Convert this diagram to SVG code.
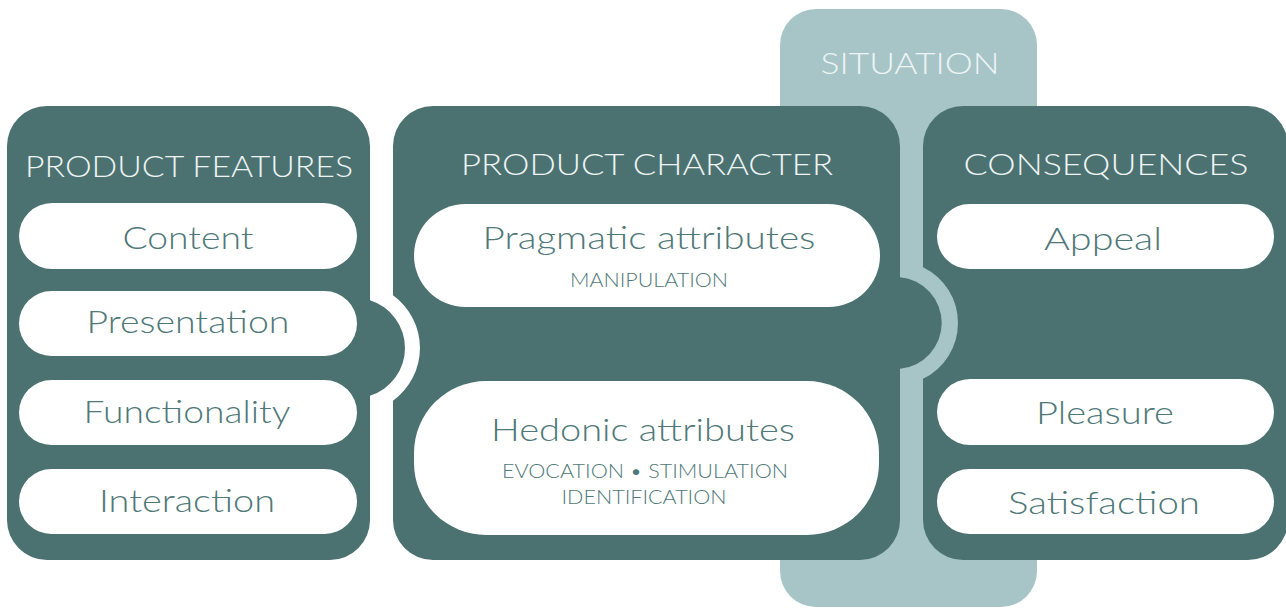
<svg xmlns="http://www.w3.org/2000/svg" width="1286" height="608" viewBox="0 0 1286 608">
<style>
.panel{fill:#4b7271}
.sit{fill:#a7c5c7}
.pill{fill:#ffffff}
.hdr{font-family:Lato,"Liberation Sans",sans-serif;font-weight:300;font-size:30px;fill:#eef4f4;text-anchor:middle}
.lbl{font-family:Lato,"Liberation Sans",sans-serif;font-weight:300;font-size:31px;fill:#4f7878;text-anchor:middle}
.sub{font-family:Lato,"Liberation Sans",sans-serif;font-weight:300;font-size:20px;fill:#4f7878;text-anchor:middle}
</style>
<rect width="1286" height="608" fill="#ffffff"/>
<g id="situation">
<rect class="sit" x="780" y="9" width="257" height="598" rx="36"/>
<text class="hdr" x="910" y="74" textLength="179" lengthAdjust="spacingAndGlyphs">SITUATION</text>
</g>
<g id="product-features">
<path class="panel" d="M47,106 H330 A40,40 0 0 1 370,146 V300.3 A50,50 0 0 1 370,395.7 V520 A40,40 0 0 1 330,560 H47 A40,40 0 0 1 7,520 V146 A40,40 0 0 1 47,106 Z"/>
<text class="hdr" x="189" y="177" textLength="328" lengthAdjust="spacingAndGlyphs">PRODUCT FEATURES</text>
<rect class="pill" x="19" y="203" width="338" height="66" rx="33"/>
<text class="lbl" x="188" y="249" textLength="131" lengthAdjust="spacingAndGlyphs">Content</text>
<rect class="pill" x="19" y="291" width="338" height="65" rx="32.5"/>
<text class="lbl" x="188" y="333" textLength="203" lengthAdjust="spacingAndGlyphs">Presentation</text>
<rect class="pill" x="19" y="380" width="338" height="65" rx="32.5"/>
<text class="lbl" x="187" y="423" textLength="207" lengthAdjust="spacingAndGlyphs">Functionality</text>
<rect class="pill" x="19" y="469" width="338" height="65" rx="32.5"/>
<text class="lbl" x="187" y="512" textLength="176" lengthAdjust="spacingAndGlyphs">Interaction</text>
</g>
<g id="product-character">
<path class="panel" d="M433,106 H860 A40,40 0 0 1 900,146 V277.2 A46,46 0 0 1 900,368.8 V520 A40,40 0 0 1 860,560 H433 A40,40 0 0 1 393,520 V400.7 A65,65 0 0 0 393,295.3 V146 A40,40 0 0 1 433,106 Z"/>
<text class="hdr" x="647" y="175" textLength="372" lengthAdjust="spacingAndGlyphs">PRODUCT CHARACTER</text>
<rect class="pill" x="414" y="204" width="466" height="103" rx="51.5"/>
<text class="lbl" x="649" y="249" textLength="333" lengthAdjust="spacingAndGlyphs">Pragmatic attributes</text>
<text class="sub" x="649" y="287" textLength="158" lengthAdjust="spacingAndGlyphs">MANIPULATION</text>
<rect class="pill" x="414" y="381" width="465" height="154" rx="72"/>
<text class="lbl" x="643" y="441" textLength="304" lengthAdjust="spacingAndGlyphs">Hedonic attributes</text>
<text class="sub" x="645" y="478" textLength="286" lengthAdjust="spacingAndGlyphs">EVOCATION • STIMULATION</text>
<text class="sub" x="644" y="504" textLength="165" lengthAdjust="spacingAndGlyphs">IDENTIFICATION</text>
</g>
<g id="consequences">
<path class="panel" d="M963,106 H1248 A40,40 0 0 1 1288,146 V520 A40,40 0 0 1 1248,560 H963 A40,40 0 0 1 923,520 V378.8 A62,62 0 0 0 923,267.2 V146 A40,40 0 0 1 963,106 Z"/>
<text class="hdr" x="1106" y="175" textLength="285" lengthAdjust="spacingAndGlyphs">CONSEQUENCES</text>
<rect class="pill" x="937" y="204" width="337" height="65" rx="32.5"/>
<text class="lbl" x="1103" y="250" textLength="118" lengthAdjust="spacingAndGlyphs">Appeal</text>
<rect class="pill" x="937" y="379" width="337" height="66" rx="33"/>
<text class="lbl" x="1105" y="424" textLength="138" lengthAdjust="spacingAndGlyphs">Pleasure</text>
<rect class="pill" x="937" y="469" width="337" height="65" rx="32.5"/>
<text class="lbl" x="1104" y="514" textLength="192" lengthAdjust="spacingAndGlyphs">Satisfaction</text>
</g>
<g id="connectors"></g>
</svg>
